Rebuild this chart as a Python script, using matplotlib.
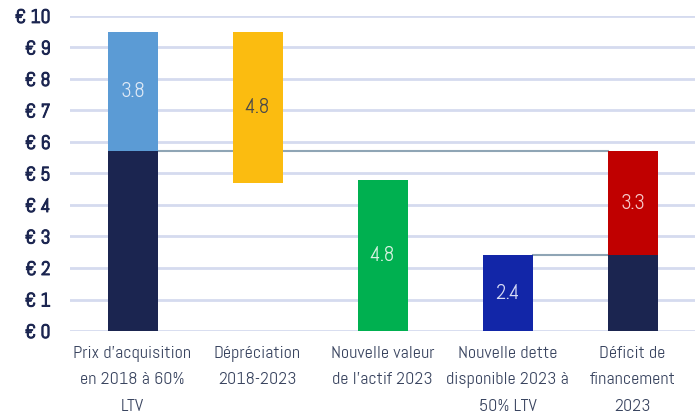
import numpy as np
import matplotlib.pyplot as plt
import matplotlib.patheffects as pe

categories = ["Prix d'acquisition\nen 2018 à 60%\nLTV", "Dépréciation\n2018-2023",
              "Nouvelle valeur\nde l'actif 2023", "Nouvelle dette\ndisponible 2023 à\n50% LTV",
              "Déficit de\nfinancement\n2023"]
base_visible = [5.7, 0.0, 0.0, 0.0, 2.4]
bottoms = [5.7, 4.7, 0.0, 0.0, 2.4]
step_values = [3.8, 4.8, 4.8, 2.4, 3.3]
step_labels = ["3.8", "4.8", "4.8", "2.4", "3.3"]
step_colors = ["#5b9bd5", "#fbbc10", "#00b050", "#1226a8", "#c00000"]
label_colors = ["#dde8f5", "#4a4a4a", "#d9f2e2", "#d6dbf5", "#f5c8c8"]
yticks = np.arange(0, 11, 1)

plt.rcParams['font.family'] = ['Abel', 'DejaVu Sans']

fig = plt.figure(figsize=(7, 4.19), dpi=100)
ax = fig.add_axes([0.1, 0.21, 0.893, 0.752])

x = np.arange(len(categories))
w = 0.4
navy = "#1b2550"

# connectors
ax.plot([x[0] + w / 2, x[4] - w / 2], [base_visible[0], base_visible[0]],
        color="#8fa5b5", lw=1.5, zorder=2)
ax.plot([x[3] + w / 2, x[4] - w / 2], [step_values[3], step_values[3]],
        color="#8fa5b5", lw=1.5, zorder=2)

for i in range(len(x)):
    if base_visible[i] > 0:
        ax.bar(x[i], base_visible[i], width=w, color=navy, zorder=3)

for i in range(len(x)):
    ax.bar(x[i], step_values[i], bottom=bottoms[i], width=w, color=step_colors[i], zorder=3)
    ax.text(x[i], bottoms[i] + step_values[i] / 2, step_labels[i], ha="center", va="center",
            fontsize=15, color=label_colors[i], zorder=4)

ax.set_ylim(0, 10)
ax.set_xlim(-0.5, 4.5)
ax.set_yticks(yticks)
ax.set_yticklabels(["€ %d" % v for v in yticks], fontsize=14, color=navy)
for t in ax.get_yticklabels():
    t.set_path_effects([pe.withStroke(linewidth=0.7, foreground=navy)])
ax.set_xticks(x)
ax.set_xticklabels(categories, fontsize=13, color="#3a4560", linespacing=1.85)
ax.tick_params(axis="both", length=0)
ax.tick_params(axis="y", pad=14)
ax.tick_params(axis="x", pad=11)
ax.grid(axis="y", color="#d5dbef", lw=2, zorder=0)
ax.set_axisbelow(True)
for s in ax.spines.values():
    s.set_visible(False)

fig.savefig("out.png", dpi=100)
